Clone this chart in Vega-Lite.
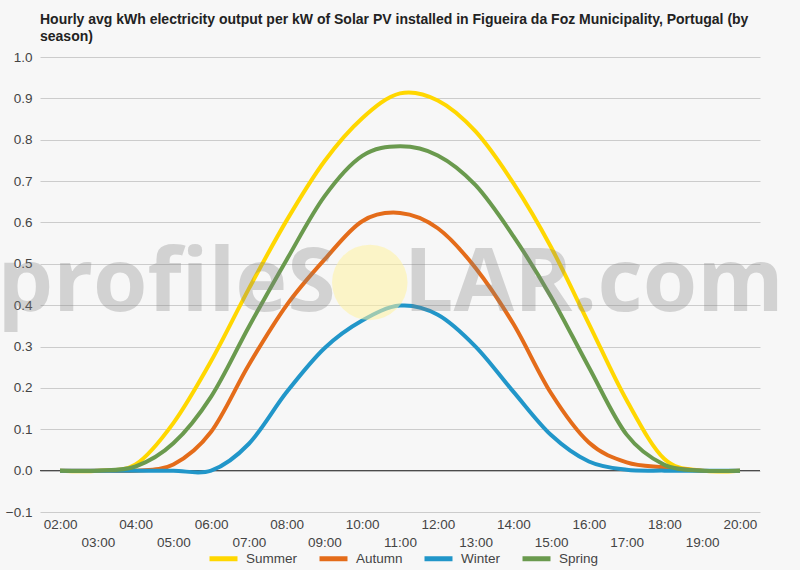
{
  "$schema": "https://vega.github.io/schema/vega-lite/v6.json",
  "autosize": {"type": "none"},
  "width": 720,
  "height": 455,
  "padding": {"left": 40, "top": 57, "right": 40, "bottom": 58},
  "background": "#f7f7f7",
  "title": {
    "text": ["Hourly avg kWh electricity output per kW of Solar PV installed in Figueira da Foz Municipality, Portugal (by", "season)"],
    "anchor": "start",
    "frame": "group",
    "font": "Liberation Sans",
    "fontSize": 14,
    "fontWeight": "bold",
    "color": "#222222",
    "lineHeight": 17,
    "offset": 6
  },
  "config": {
    "view": {"stroke": null},
    "font": "Liberation Sans"
  },
  "resolve": {"axis": {"x": "independent"}},
  "datasets": {
    "solar": [
      {"hour": 2, "season": "Summer", "kwh": 0},
      {"hour": 3, "season": "Summer", "kwh": 0},
      {"hour": 4, "season": "Summer", "kwh": 0.015},
      {"hour": 5, "season": "Summer", "kwh": 0.115},
      {"hour": 6, "season": "Summer", "kwh": 0.265},
      {"hour": 7, "season": "Summer", "kwh": 0.44},
      {"hour": 8, "season": "Summer", "kwh": 0.605},
      {"hour": 9, "season": "Summer", "kwh": 0.748},
      {"hour": 10, "season": "Summer", "kwh": 0.852},
      {"hour": 11, "season": "Summer", "kwh": 0.912},
      {"hour": 12, "season": "Summer", "kwh": 0.895},
      {"hour": 13, "season": "Summer", "kwh": 0.82},
      {"hour": 14, "season": "Summer", "kwh": 0.695},
      {"hour": 15, "season": "Summer", "kwh": 0.54},
      {"hour": 16, "season": "Summer", "kwh": 0.355},
      {"hour": 17, "season": "Summer", "kwh": 0.17},
      {"hour": 18, "season": "Summer", "kwh": 0.028},
      {"hour": 19, "season": "Summer", "kwh": 0},
      {"hour": 20, "season": "Summer", "kwh": 0},
      {"hour": 2, "season": "Autumn", "kwh": 0},
      {"hour": 3, "season": "Autumn", "kwh": 0},
      {"hour": 4, "season": "Autumn", "kwh": 0},
      {"hour": 5, "season": "Autumn", "kwh": 0.015},
      {"hour": 6, "season": "Autumn", "kwh": 0.094},
      {"hour": 7, "season": "Autumn", "kwh": 0.256},
      {"hour": 8, "season": "Autumn", "kwh": 0.4},
      {"hour": 9, "season": "Autumn", "kwh": 0.51},
      {"hour": 10, "season": "Autumn", "kwh": 0.603},
      {"hour": 11, "season": "Autumn", "kwh": 0.623},
      {"hour": 12, "season": "Autumn", "kwh": 0.586},
      {"hour": 13, "season": "Autumn", "kwh": 0.49},
      {"hour": 14, "season": "Autumn", "kwh": 0.355},
      {"hour": 15, "season": "Autumn", "kwh": 0.187},
      {"hour": 16, "season": "Autumn", "kwh": 0.068},
      {"hour": 17, "season": "Autumn", "kwh": 0.02},
      {"hour": 18, "season": "Autumn", "kwh": 0.008},
      {"hour": 19, "season": "Autumn", "kwh": 0},
      {"hour": 20, "season": "Autumn", "kwh": 0},
      {"hour": 2, "season": "Winter", "kwh": 0},
      {"hour": 3, "season": "Winter", "kwh": 0},
      {"hour": 4, "season": "Winter", "kwh": 0},
      {"hour": 5, "season": "Winter", "kwh": 0},
      {"hour": 6, "season": "Winter", "kwh": 0},
      {"hour": 7, "season": "Winter", "kwh": 0.065},
      {"hour": 8, "season": "Winter", "kwh": 0.19},
      {"hour": 9, "season": "Winter", "kwh": 0.296},
      {"hour": 10, "season": "Winter", "kwh": 0.363},
      {"hour": 11, "season": "Winter", "kwh": 0.399},
      {"hour": 12, "season": "Winter", "kwh": 0.377},
      {"hour": 13, "season": "Winter", "kwh": 0.3},
      {"hour": 14, "season": "Winter", "kwh": 0.191},
      {"hour": 15, "season": "Winter", "kwh": 0.086},
      {"hour": 16, "season": "Winter", "kwh": 0.022},
      {"hour": 17, "season": "Winter", "kwh": 0.002},
      {"hour": 18, "season": "Winter", "kwh": 0},
      {"hour": 19, "season": "Winter", "kwh": 0},
      {"hour": 20, "season": "Winter", "kwh": 0},
      {"hour": 2, "season": "Spring", "kwh": 0},
      {"hour": 3, "season": "Spring", "kwh": 0},
      {"hour": 4, "season": "Spring", "kwh": 0.01},
      {"hour": 5, "season": "Spring", "kwh": 0.066},
      {"hour": 6, "season": "Spring", "kwh": 0.179},
      {"hour": 7, "season": "Spring", "kwh": 0.348},
      {"hour": 8, "season": "Spring", "kwh": 0.51},
      {"hour": 9, "season": "Spring", "kwh": 0.663},
      {"hour": 10, "season": "Spring", "kwh": 0.761},
      {"hour": 11, "season": "Spring", "kwh": 0.784},
      {"hour": 12, "season": "Spring", "kwh": 0.762},
      {"hour": 13, "season": "Spring", "kwh": 0.69},
      {"hour": 14, "season": "Spring", "kwh": 0.567},
      {"hour": 15, "season": "Spring", "kwh": 0.42},
      {"hour": 16, "season": "Spring", "kwh": 0.25},
      {"hour": 17, "season": "Spring", "kwh": 0.087},
      {"hour": 18, "season": "Spring", "kwh": 0.014},
      {"hour": 19, "season": "Spring", "kwh": 0},
      {"hour": 20, "season": "Spring", "kwh": 0}
    ]
  },
  "layer": [
    {
      "data": {"values": [{"zero": 0}]},
      "mark": {"type": "rule", "color": "#333333", "strokeWidth": 1},
      "encoding": {
        "y": {"field": "zero", "type": "quantitative", "scale": {"domain": [-0.1, 1.0], "nice": false}}
      }
    },
    {
      "data": {"name": "solar"},
      "mark": {"type": "line", "strokeWidth": 4, "interpolate": "cardinal"},
      "encoding": {
        "x": {
          "field": "hour", "type": "quantitative",
          "scale": {"domain": [1.47, 20.53], "nice": false, "zero": false},
          "axis": {
            "title": null,
            "orient": "bottom",
            "values": [2,4,6,8,10,12,14,16,18,20],
            "labelExpr": "(datum.value < 10 ? '0' : '') + datum.value + ':00'",
            "grid": false, "ticks": false, "domain": false,
            "labelOverlap": false, "labelFlush": false,
            "labelFontSize": 13.5, "labelColor": "#444444", "labelFont": "Liberation Sans",
            "labelPadding": 5
          }
        },
        "y": {
          "field": "kwh", "type": "quantitative",
          "scale": {"domain": [-0.1, 1.0], "nice": false},
          "axis": {
            "title": null,
            "values": [-0.1,-0.05,0,0.05,0.1,0.15,0.2,0.25,0.3,0.35,0.4,0.45,0.5,0.55,0.6,0.65,0.7,0.75,0.8,0.85,0.9,0.95,1.0],
            "labelExpr": "abs(round(datum.value*100)) % 10 == 5 ? '' : format(datum.value, '.1f')",
            "ticks": false, "domain": false,
            "labelOverlap": false,
            "labelFontSize": 13.5, "labelColor": "#444444", "labelFont": "Liberation Sans",
            "labelPadding": 8,
            "gridColor": {"condition": {"test": "abs(round(datum.value*100)) % 10 == 5", "value": "#e6e6e6"}, "value": "#cccccc"},
            "gridWidth": 1
          }
        },
        "color": {
          "field": "season", "type": "nominal",
          "scale": {"domain": ["Summer", "Autumn", "Winter", "Spring"], "range": ["#FFD700", "#E46C1A", "#2196C9", "#6A9A4E"]},
          "legend": {
            "title": null,
            "orient": "none",
            "direction": "horizontal",
            "legendX": 167,
            "legendY": 485,
            "symbolType": "stroke",
            "symbolSize": 784,
            "symbolStrokeWidth": 5,
            "labelFontSize": 13.5,
            "labelColor": "#444444",
            "labelFont": "Liberation Sans",
            "labelOffset": 6,
            "columnPadding": 11
          }
        }
      }
    },
    {
      "data": {"values": [{"hour": 10.2, "v": 0.455}]},
      "mark": {"type": "point", "shape": "circle", "filled": true, "size": 5700, "color": "#fff3a0", "opacity": 0.55},
      "encoding": {
        "x": {
          "field": "hour", "type": "quantitative",
          "scale": {"domain": [1.47, 20.53], "nice": false, "zero": false},
          "axis": {
            "title": null,
            "orient": "bottom",
            "values": [3,5,7,9,11,13,15,17,19],
            "labelExpr": "(datum.value < 10 ? '0' : '') + datum.value + ':00'",
            "grid": false, "ticks": false, "domain": false,
            "labelOverlap": false, "labelFlush": false,
            "labelFontSize": 13.5, "labelColor": "#444444", "labelFont": "Liberation Sans",
            "labelPadding": 23
          }
        },
        "y": {"field": "v", "type": "quantitative"}
      }
    },
    {
      "data": {"values": [{"hour": 9.3, "v": 0.386, "t": "profileS"}]},
      "mark": {"type": "text", "align": "right", "baseline": "alphabetic", "font": "Open Sans", "fontWeight": 700, "fontSize": 88, "color": "#808080", "opacity": 0.3},
      "encoding": {
        "x": {"field": "hour", "type": "quantitative", "scale": {"domain": [1.47, 20.53], "nice": false, "zero": false}, "axis": null},
        "y": {"field": "v", "type": "quantitative"},
        "text": {"field": "t"}
      }
    },
    {
      "data": {"values": [{"hour": 11.1, "v": 0.386, "t": "LAR.com"}]},
      "mark": {"type": "text", "align": "left", "baseline": "alphabetic", "font": "Open Sans", "fontWeight": 700, "fontSize": 88, "color": "#808080", "opacity": 0.3},
      "encoding": {
        "x": {"field": "hour", "type": "quantitative", "scale": {"domain": [1.47, 20.53], "nice": false, "zero": false}, "axis": null},
        "y": {"field": "v", "type": "quantitative"},
        "text": {"field": "t"}
      }
    }
  ]
}
